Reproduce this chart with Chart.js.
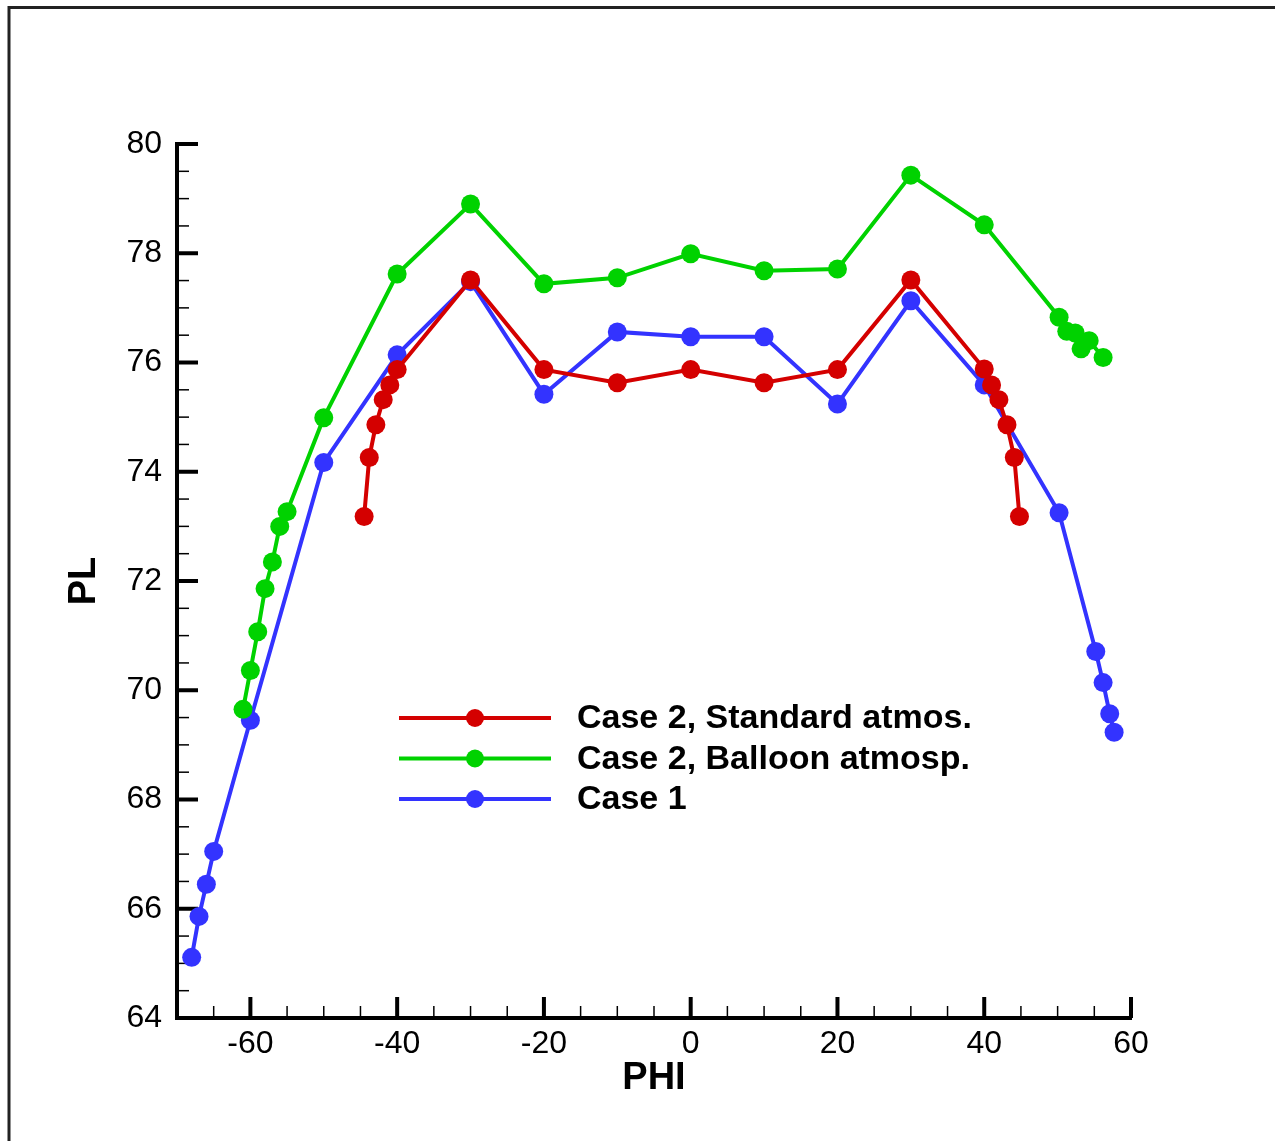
<!DOCTYPE html>
<html>
<head>
<meta charset="utf-8">
<script src="https://cdn.jsdelivr.net/npm/chart.js@4/dist/chart.umd.min.js"></script>
<style>
  html, body { margin: 0; padding: 0; background: #fff; }
  #wrap { width: 1275px; height: 1141px; }
</style>
</head>
<body>
<div id="wrap"><canvas id="plChart" width="1275" height="1141"></canvas></div>
<script>
// values
const stdPhi = [-44.5, -43.8, -42.9, -41.9, -41.0, -40, -30, -20, -10, 0, 10, 20, 30, 40, 41.0, 42.0, 43.1, 44.1, 44.8];
const stdPL  = [73.18, 74.26, 74.86, 75.32, 75.59, 75.87, 77.51, 75.87, 75.63, 75.87, 75.63, 75.87, 77.51, 75.88, 75.59, 75.32, 74.86, 74.26, 73.18];

const balPhi = [-61, -60, -59, -58, -57, -56, -55, -50, -40, -30, -20, -10, 0, 10, 20, 30, 40, 50.2, 51.25, 52.4, 53.2, 54.3, 56.2];
const balPL  = [69.65, 70.36, 71.07, 71.86, 72.35, 73.0, 73.27, 74.99, 77.62, 78.90, 77.44, 77.55, 77.99, 77.68, 77.71, 79.43, 78.52, 76.83, 76.57, 76.54, 76.25, 76.40, 76.09];

const c1Phi = [-68, -67, -66, -65, -60, -50, -40, -30, -20, -10, 0, 10, 20, 30, 40, 50.2, 55.2, 56.2, 57.1, 57.7];
const c1PL  = [65.11, 65.86, 66.45, 67.05, 69.45, 74.17, 76.14, 77.48, 75.42, 76.56, 76.47, 76.47, 75.24, 77.13, 75.59, 73.25, 70.71, 70.14, 69.57, 69.23];

const seriesNames = ["Case 2, Standard atmos.", "Case 2, Balloon atmosp.", "Case 1"];
const seriesColors = ["#d40000", "#00d200", "#3333ff"];

const xTicks = [-60, -40, -20, 0, 20, 40, 60];
const yTicks = [64, 66, 68, 70, 72, 74, 76, 78, 80];

const pairs = (xs, ys) => xs.map((x, i) => ({ x: x, y: ys[i] }));

// inward ticks: major at labelled values, minor in between
const tickMarks = {
    id: "tickMarks",
    beforeDatasetsDraw(chart) {
        const ctx = chart.ctx;
        const xs = chart.scales.x, ys = chart.scales.y;
        const area = chart.chartArea;
        ctx.save();
        ctx.strokeStyle = "#000";
        for (let v = xs.min; v <= xs.max + 1e-6; v += 5) {
            const major = xTicks.includes(v);
            const px = xs.getPixelForValue(v);
            ctx.lineWidth = major ? 4 : 1.5;
            ctx.beginPath();
            ctx.moveTo(px, area.bottom);
            ctx.lineTo(px, area.bottom - (major ? 21 : 12));
            ctx.stroke();
        }
        for (let v = ys.min; v <= ys.max + 1e-6; v += 0.5) {
            const major = yTicks.includes(v);
            const py = ys.getPixelForValue(v);
            ctx.lineWidth = major ? 4 : 1.5;
            ctx.beginPath();
            ctx.moveTo(area.left, py);
            ctx.lineTo(area.left + (major ? 21 : 12), py);
            ctx.stroke();
        }
        ctx.restore();
    }
};

// page frame and legend box
const frameAndLegend = {
    id: "frameAndLegend",
    afterDraw(chart) {
        const ctx = chart.ctx;
        ctx.save();
        ctx.strokeStyle = "#222";
        ctx.lineWidth = 3;
        ctx.strokeRect(9, 7.5, 1400, 1300);

        const x0 = 399, y0 = 718, rowH = 40.5;
        chart.data.datasets.forEach((ds, i) => {
            const y = y0 + i * rowH;
            ctx.strokeStyle = ds.borderColor;
            ctx.lineWidth = 4;
            ctx.beginPath();
            ctx.moveTo(x0, y);
            ctx.lineTo(x0 + 152, y);
            ctx.stroke();
            ctx.fillStyle = ds.borderColor;
            ctx.beginPath();
            ctx.arc(x0 + 76, y, 9, 0, Math.PI * 2);
            ctx.fill();
            ctx.fillStyle = "#000";
            ctx.font = "bold 34px 'Liberation Sans', Arial, sans-serif";
            ctx.textBaseline = "middle";
            ctx.fillText(ds.label, x0 + 178, y + 1);
        });
        ctx.restore();
    }
};

const datasets = [
    pairs(stdPhi, stdPL),
    pairs(balPhi, balPL),
    pairs(c1Phi, c1PL)
].map((d, i) => ({
    label: seriesNames[i],
    data: d,
    borderColor: seriesColors[i],
    backgroundColor: seriesColors[i],
    borderWidth: 4,
    pointRadius: 9.5,
    pointBorderWidth: 0,
    pointHoverRadius: 9.5,
    tension: 0,
    clip: false
}));

const font = "'Liberation Sans', Arial, sans-serif";

new Chart(document.getElementById("plChart"), {
    type: "line",
    data: { datasets },
    options: {
        responsive: false,
        animation: false,
        events: [],
        layout: { padding: { top: 144, right: 144, left: 0, bottom: 0 } },
        plugins: { legend: { display: false }, tooltip: { enabled: false } },
        scales: {
            x: {
                type: "linear",
                min: -70,
                max: 60,
                afterBuildTicks: s => { s.ticks = xTicks.map(v => ({ value: v })); },
                afterFit: s => { s.height = 123; },
                grid: { display: true, drawOnChartArea: false, drawTicks: false },
                border: { display: true, color: "#000", width: 4 },
                ticks: { color: "#000", font: { family: font, size: 32 }, padding: 7, maxRotation: 0 },
                title: { display: true, text: "PHI", color: "#000",
                         font: { family: font, size: 38, weight: "bold" }, padding: { bottom: 40 } }
            },
            y: {
                type: "linear",
                min: 64,
                max: 80,
                afterBuildTicks: s => { s.ticks = yTicks.map(v => ({ value: v })); },
                afterFit: s => { s.width = 177; },
                grid: { display: true, drawOnChartArea: false, drawTicks: false },
                border: { display: true, color: "#000", width: 4 },
                ticks: { color: "#000", font: { family: font, size: 32 }, padding: 15 },
                title: { display: true, text: "PL", color: "#000",
                         font: { family: font, size: 38, weight: "bold" }, padding: { top: 62 } }
            }
        }
    },
    plugins: [tickMarks, frameAndLegend]
});
</script>
</body>
</html>
